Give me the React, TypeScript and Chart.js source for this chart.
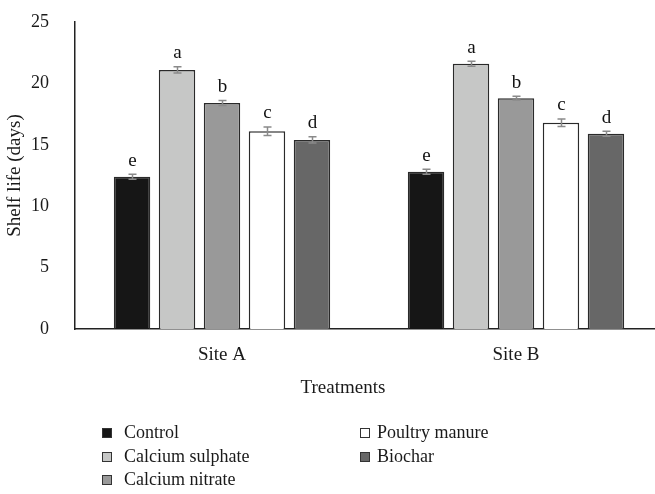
import React, { useEffect, useRef } from "react";
import { Chart, registerables } from "chart.js";

Chart.register(...registerables);

const categories = ["Site A", "Site B"];
const treatments = ["Control", "Calcium sulphate", "Calcium nitrate", "Poultry manure", "Biochar"];
const controlValues = [12.4, 12.8];
const sulphateValues = [21.1, 21.6];
const nitrateValues = [18.4, 18.8];
const poultryValues = [16.1, 16.8];
const biocharValues = [15.4, 15.9];
const controlErr = [0.2, 0.2];
const sulphateErr = [0.25, 0.2];
const nitrateErr = [0.2, 0.15];
const poultryErr = [0.35, 0.3];
const biocharErr = [0.25, 0.2];
const controlLetters = ["e", "e"];
const sulphateLetters = ["a", "a"];
const nitrateLetters = ["b", "b"];
const poultryLetters = ["c", "c"];
const biocharLetters = ["d", "d"];
const yTicks = [0, 5, 10, 15, 20, 25];
const xTitle = "Treatments";
const yTitle = "Shelf life (days)";

const colors = ["#161616", "#c6c7c6", "#999999", "#ffffff", "#676767"];
const FONT = "'Liberation Serif', 'Times New Roman', serif";

const W = 663;
const H = 494;

const values = [controlValues, sulphateValues, nitrateValues, poultryValues, biocharValues];
const errors = [controlErr, sulphateErr, nitrateErr, poultryErr, biocharErr];
const letters = [controlLetters, sulphateLetters, nitrateLetters, poultryLetters, biocharLetters];

const extrasPlugin = {
  id: "extras",
  afterDatasetsDraw(chart: any) {
    const ctx = chart.ctx;
    const yScale = chart.scales.y;
    ctx.save();
    chart.data.datasets.forEach((ds: any, i: number) => {
      const meta = chart.getDatasetMeta(i);
      meta.data.forEach((el: any, j: number) => {
        const v = values[i][j];
        const e = errors[i][j];
        const x = Math.round(el.x) + 0.5;
        const yTop = yScale.getPixelForValue(v + e);
        const yBot = yScale.getPixelForValue(v - e);
        ctx.strokeStyle = "#8a8a8a";
        ctx.lineWidth = 1.5;
        ctx.beginPath();
        ctx.moveTo(x, yTop);
        ctx.lineTo(x, yBot);
        ctx.moveTo(x - 4, yTop);
        ctx.lineTo(x + 4, yTop);
        ctx.moveTo(x - 4, yBot);
        ctx.lineTo(x + 4, yBot);
        ctx.stroke();
        ctx.fillStyle = "#111";
        ctx.font = `19px ${FONT}`;
        ctx.textAlign = "center";
        ctx.textBaseline = "bottom";
        ctx.fillText(letters[i][j], x, yTop - 4);
      });
    });
    ctx.restore();
  },
  afterDraw(chart: any) {
    const ctx = chart.ctx;
    ctx.save();
    // x-axis title
    ctx.fillStyle = "#1a1a1a";
    ctx.font = `19px ${FONT}`;
    ctx.textAlign = "center";
    ctx.textBaseline = "middle";
    ctx.fillText(xTitle, 343, 388);
    // legend
    const cols = [102, 360];
    const texts = [124, 377];
    const rows = [433, 457, 480];
    treatments.forEach((name, i) => {
      const col = i < 3 ? 0 : 1;
      const row = i < 3 ? i : i - 3;
      const x = cols[col];
      const y = rows[row];
      ctx.fillStyle = colors[i];
      ctx.fillRect(x + 0.5, y - 4.5, 9, 9);
      ctx.strokeStyle = "#333";
      ctx.lineWidth = 1;
      ctx.strokeRect(x + 0.5, y - 4.5, 9, 9);
      ctx.fillStyle = "#1a1a1a";
      ctx.font = `18px ${FONT}`;
      ctx.textAlign = "left";
      ctx.textBaseline = "middle";
      ctx.fillText(name, texts[col], y);
    });
    ctx.restore();
  },
};

export default function App() {
  const ref = useRef<HTMLCanvasElement | null>(null);
  useEffect(() => {
    if (!ref.current) return;
    const chart = new Chart(ref.current, {
      type: "bar",
      data: {
        labels: categories,
        datasets: treatments.map((t, i) => ({
          label: t,
          data: values[i],
          backgroundColor: colors[i],
          borderColor: "#2a2a2a",
          borderWidth: 1.5,
          categoryPercentage: 0.765,
          barPercentage: 0.81,
        })),
      },
      options: {
        responsive: false,
        animation: false,
        devicePixelRatio: 1,
        layout: { padding: { top: 22, right: 0, bottom: 0, left: 0 } },
        plugins: { legend: { display: false }, tooltip: { enabled: false } },
        scales: {
          x: {
            grid: { display: false, drawTicks: false },
            border: { display: true, color: "#222", width: 1.5 },
            ticks: { color: "#1a1a1a", font: { family: FONT, size: 19 }, padding: 15 },
            afterFit: (s: any) => {
              s.height = 165;
              s.paddingLeft = 0;
              s.paddingRight = 0;
            },
          },
          y: {
            min: 0,
            max: 25,
            afterBuildTicks: (s: any) => { s.ticks = yTicks.map((v) => ({ value: v })); },
            grid: { display: false, drawTicks: false },
            border: { display: true, color: "#222", width: 1.5 },
            ticks: { color: "#1a1a1a", font: { family: FONT, size: 18 }, padding: 26 },
            title: { display: true, text: yTitle, color: "#1a1a1a", font: { family: FONT, size: 19 }, padding: { top: 4, bottom: 0 } },
            afterFit: (s: any) => {
              s.width = 75;
              s.paddingTop = 0;
              s.paddingBottom = 0;
            },
          },
        },
      },
      plugins: [extrasPlugin],
    });
    return () => chart.destroy();
  }, []);
  return (
    <div style={{ position: "fixed", left: 0, top: 0, width: 655, height: 494, overflow: "hidden", background: "#fff" }}>
      <canvas ref={ref} width={W} height={H} style={{ width: W, height: H, display: "block" }} />
    </div>
  );
}
